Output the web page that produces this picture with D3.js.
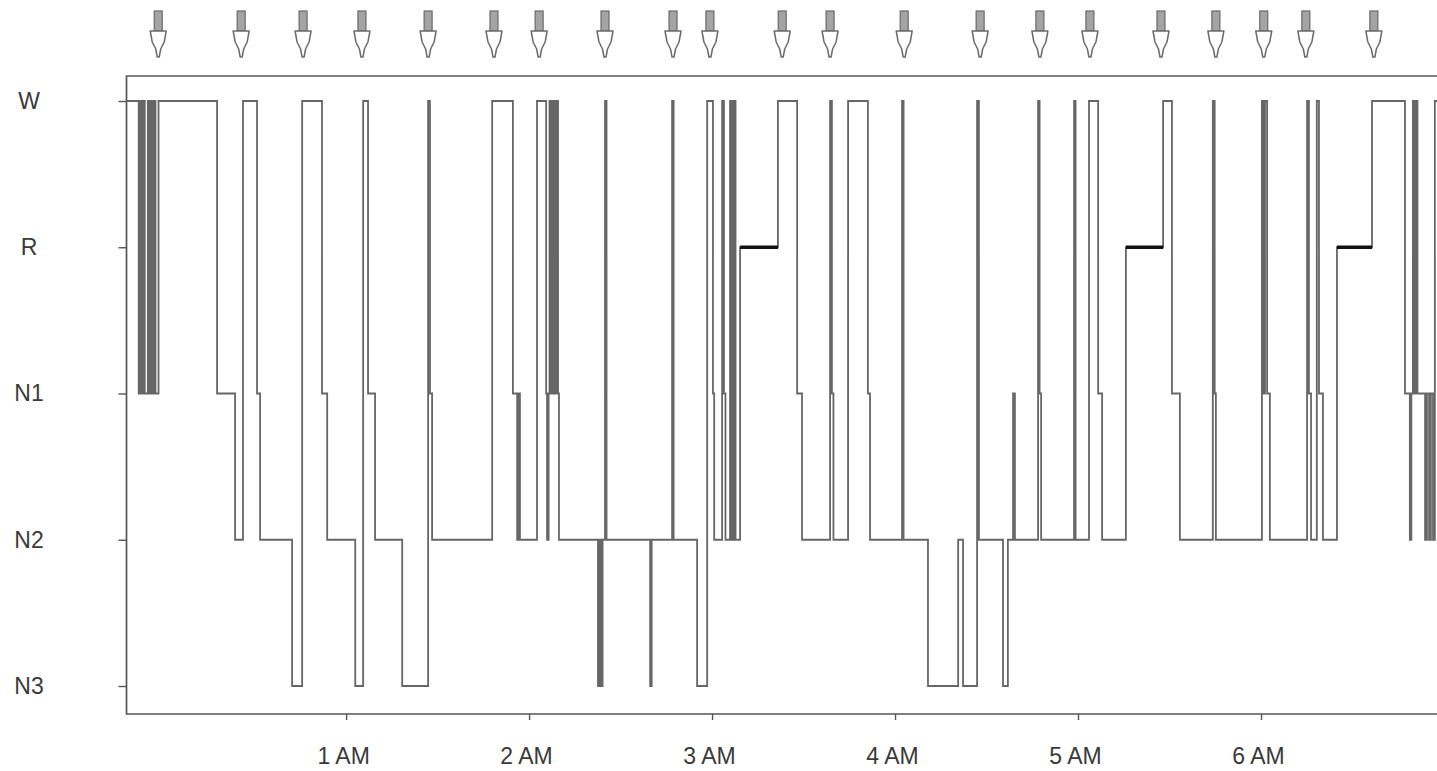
<!DOCTYPE html>
<html>
<head>
<meta charset="utf-8">
<script src="https://cdn.jsdelivr.net/npm/d3@7"></script>
<style>
  html, body { margin: 0; padding: 0; background: #fff; overflow: hidden; }
  svg { display: block; }
  text { font-family: "Liberation Sans", Arial, sans-serif; fill: #3a3a3a; }
</style>
</head>
<body>
<svg id="chart" width="1437" height="771"></svg>
<script>
// Recording window (lights off 23:48, lights on 07:00)
const recordStart = new Date(2000, 0, 1, 23, 48);
const recordEnd = new Date(2000, 0, 2, 7, 0);

// Sleep stages, top to bottom
const stageNames = ["W", "R", "N1", "N2", "N3"];

// Stage changes: minutes after lights off, and the stage entered at that moment
const changeMinutes = [
  0, 4.0, 4.5, 5.0, 5.5, 6.0, 7.0, 7.5, 8.0, 8.5, 9.0, 9.5, 10.5,
  29.7, 35.6, 38.2, 42.8, 43.8, 54.3, 57.6, 64.1, 65.8,
  75.0, 77.6, 79.2, 81.5, 90.4, 98.9, 99.5, 100.2,
  119.9, 126.7, 128.1, 128.6, 129.0, 134.6,
  137.6, 137.9, 138.4, 138.7, 139.2, 139.5, 140.0, 140.4, 140.9, 141.2, 141.5, 141.8,
  154.6, 155.1, 155.6, 156.1, 156.9, 157.4,
  171.7, 172.2, 178.9, 179.4,
  187.1, 190.4, 192.3, 192.7, 195.3, 195.9, 196.4,
  197.9, 198.2, 198.6, 198.9, 199.2, 199.7, 201.2, 213.6,
  219.9, 221.5, 230.7, 231.3, 231.8, 236.6, 243.1, 243.8,
  254.3, 254.8, 262.8, 272.7, 274.3, 278.9, 279.5,
  287.4, 289.0, 290.7, 291.3, 298.9, 299.4, 299.9,
  310.7, 311.2, 315.6, 318.6, 319.9, 327.7, 339.9,
  342.8, 345.4, 356.2, 356.8, 357.2,
  372.3, 372.8, 373.3, 374.0, 374.9,
  387.1, 387.7, 388.4, 390.3, 391.0, 392.3, 396.9, 408.4,
  419.2, 420.8, 421.3, 421.8, 422.3, 422.8, 423.3,
  425.8, 426.4, 427.1, 427.7, 428.4, 429.0
];
const changeStages = [
  "W", "N1", "W", "N1", "W", "N1", "W", "N1", "W", "N1", "W", "N1", "W",
  "N1", "N2", "W", "N1", "N2", "N3", "W", "N1", "N2",
  "N3", "W", "N1", "N2", "N3", "W", "N1", "N2",
  "W", "N1", "N2", "N1", "N2", "W",
  "N1", "N2", "N1", "W", "N1", "W", "N1", "W", "N1", "W", "N1", "N2",
  "N3", "N2", "N3", "N2", "W", "N2",
  "N3", "N2", "W", "N2",
  "N3", "W", "N1", "N2", "W", "N1", "N2",
  "W", "N2", "W", "N2", "W", "N2", "R", "W",
  "N1", "N2", "W", "N1", "N2", "W", "N1", "N2",
  "W", "N2", "N3", "N2", "N3", "W", "N2",
  "N3", "N2", "N1", "N2", "W", "N1", "N2",
  "W", "N2", "W", "N1", "N2", "R", "W",
  "N1", "N2", "W", "N1", "N2",
  "W", "N1", "W", "N1", "N2",
  "W", "N1", "N2", "W", "N1", "N2", "R", "W",
  "N1", "N2", "N1", "W", "N1", "W", "N1",
  "N2", "N1", "N2", "N1", "N2", "W"
];

// Event markers along the top (minutes after lights off)
const arrowMinutes = [
  10.4, 37.6, 57.9, 77.2, 98.9, 120.5, 135.3, 156.9, 179.2, 191.3, 215.0,
  230.7, 255.0, 279.9, 299.5, 315.9, 339.2, 357.2, 372.9, 386.7, 409.0
];

// Hour ticks
const tickHours = [1, 2, 3, 4, 5, 6];
const tickLabels = ["1 AM", "2 AM", "3 AM", "4 AM", "5 AM", "6 AM"];

const toDate = m => new Date(recordStart.getTime() + m * 60000);

const svg = d3.select("#chart");
const plotLeft = 126.5, plotRight = 1444, plotTop = 76, plotBottom = 714;

const x = d3.scaleTime().domain([recordStart, recordEnd]).range([plotLeft, plotRight]);
const y = d3.scalePoint().domain(stageNames).range([101, 686]);

// Plot frame
svg.append("path")
  .attr("d", `M${plotRight + 20},${plotTop}H${plotLeft}V${plotBottom}H${plotRight + 20}`)
  .attr("fill", "none")
  .attr("stroke", "#555")
  .attr("stroke-width", 1.7);

// Y axis ticks and stage labels
const yAxis = svg.append("g")
  .attr("transform", `translate(${plotLeft},0)`)
  .call(d3.axisLeft(y).tickSize(8).tickSizeOuter(0));
yAxis.select(".domain").remove();
yAxis.selectAll(".tick line").attr("stroke", "#555").attr("stroke-width", 1.4);
yAxis.selectAll(".tick text")
  .attr("x", 29 - plotLeft)
  .attr("dy", "0.32em")
  .attr("text-anchor", "middle")
  .style("font-size", "23px")
  .style("font-family", "'Liberation Sans', Arial, sans-serif")
  .attr("fill", "#3a3a3a");

// X axis: hour ticks
const tickDates = tickHours.map(h => new Date(2000, 0, 2, h, 0));
const xAxis = svg.append("g")
  .attr("transform", `translate(0,${plotBottom})`)
  .call(d3.axisBottom(x).tickValues(tickDates).tickSize(6).tickSizeOuter(0)
    .tickFormat((d, i) => tickLabels[i]));
xAxis.select(".domain").remove();
xAxis.selectAll(".tick line").attr("stroke", "#555").attr("stroke-width", 1.4);
xAxis.selectAll(".tick text")
  .attr("y", 0)
  .attr("dy", 0)
  .attr("transform", "translate(-3,50)")
  .style("font-size", "23px")
  .style("font-family", "'Liberation Sans', Arial, sans-serif")
  .attr("fill", "#3a3a3a");

// Hypnogram step line
const points = changeMinutes.map((m, i) => ({ t: toDate(m), s: changeStages[i] }));
points.push({ t: recordEnd, s: changeStages[changeStages.length - 1] });

svg.append("clipPath").attr("id", "plotClip")
  .append("rect")
  .attr("x", plotLeft).attr("y", plotTop)
  .attr("width", plotRight - plotLeft).attr("height", plotBottom - plotTop);

const plot = svg.append("g").attr("clip-path", "url(#plotClip)");

plot.append("path")
  .datum(points)
  .attr("d", d3.line().x(d => x(d.t)).y(d => y(d.s)).curve(d3.curveStepAfter))
  .attr("fill", "none")
  .attr("stroke", "#666")
  .attr("stroke-width", 1.8);

// REM periods drawn heavier
const remSegments = [];
for (let i = 0; i < points.length - 1; i++) {
  if (points[i].s === "R") remSegments.push([points[i].t, points[i + 1].t]);
}
plot.selectAll("line.rem")
  .data(remSegments)
  .join("line")
  .attr("class", "rem")
  .attr("x1", d => x(d[0]))
  .attr("x2", d => x(d[1]))
  .attr("y1", y("R"))
  .attr("y2", y("R"))
  .attr("stroke", "#111")
  .attr("stroke-width", 3.6);

// Event arrows above the plot
const arrows = svg.append("g")
  .selectAll("g")
  .data(arrowMinutes)
  .join("g")
  .attr("transform", m => `translate(${x(toDate(m))},0)`);

arrows.append("rect")
  .attr("x", -4).attr("y", 11).attr("width", 8).attr("height", 20)
  .attr("fill", "#a4a4a4").attr("stroke", "#6a6a6a").attr("stroke-width", 1.2);

arrows.append("path")
  .attr("d", "M-8,31 L8,31 L6,42 L2.5,49 L1,57 L-1,57 L-2.5,49 L-6,42 Z")
  .attr("fill", "#fff").attr("stroke", "#6a6a6a").attr("stroke-width", 1.5)
  .attr("stroke-linejoin", "round");
</script>
</body>
</html>
